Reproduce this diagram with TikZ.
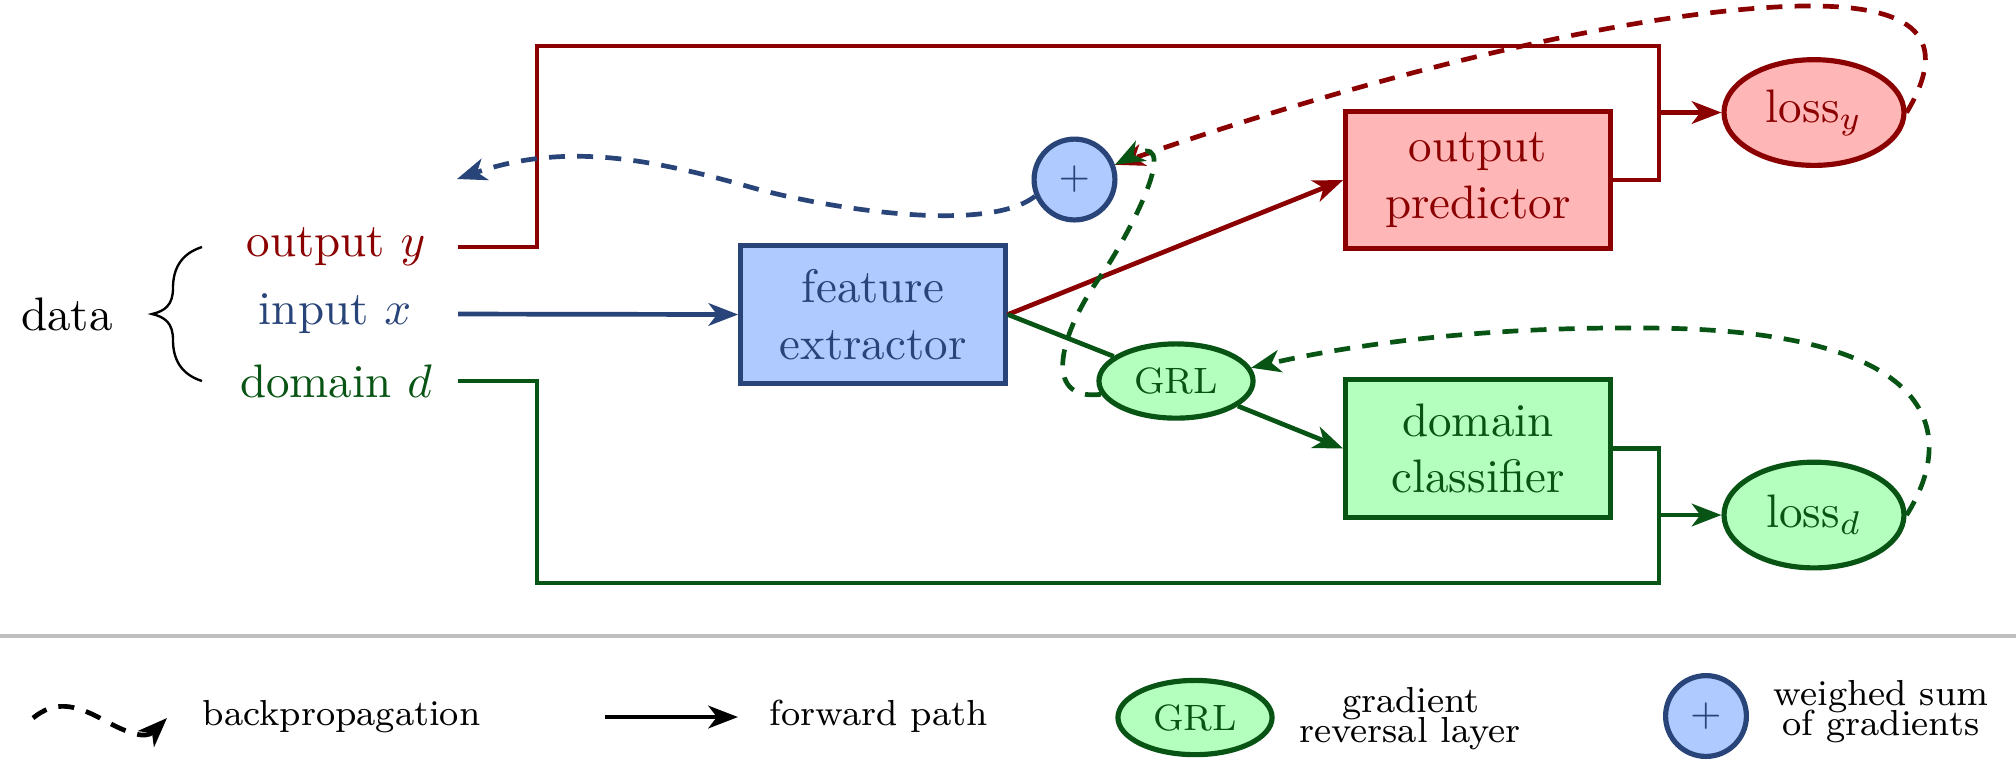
\documentclass[tikz,border=0pt]{standalone}
\usetikzlibrary{arrows.meta,shapes.geometric}
\definecolor{dred}{RGB}{139,0,0}
\definecolor{lred}{RGB}{255,182,182}
\definecolor{dgreen}{RGB}{8,84,20}
\definecolor{lgreen}{RGB}{180,255,190}
\definecolor{dblue}{RGB}{40,68,120}
\definecolor{lblue}{RGB}{174,202,255}
\definecolor{sepgray}{RGB}{190,190,190}
\tikzset{
  tip/.style={-{Stealth[length=6.3pt,width=4.8pt,inset=1.8pt]}},
  fwd/.style={line width=1pt, tip},
  plain/.style={line width=1pt},
  back/.style={line width=1pt, dash pattern=on 3.4pt off 2.6pt, tip},
  box/.style={draw, rectangle, line width=1.1pt, minimum width=56.3pt, minimum height=29.3pt, align=center, inner sep=0pt},
  lossnode/.style={draw, ellipse, line width=1.1pt, minimum width=38.3pt, minimum height=22.5pt, inner sep=0pt},
  grlnode/.style={draw=dgreen, fill=lgreen, text=dgreen, ellipse, line width=1.1pt, minimum width=32.8pt, minimum height=15.8pt, inner sep=0pt, font=\fontsize{7.8}{9.4}\selectfont},
  plusnode/.style={draw=dblue, fill=lblue, text=dblue, circle, line width=1.1pt, minimum size=17.2pt, inner sep=0pt, font=\fontsize{7.8}{9.4}\selectfont},
  legtext/.style={inner sep=0pt, font=\fontsize{7.7}{9.4}\selectfont},
}
\begin{document}
\begin{tikzpicture}[x=0.2128pt, y=-0.2128pt]
\useasboundingbox (0,0) rectangle (2016,761);

% data labels
\node (data) at (67,314) {data};
\node[text=dred] (outy) at (336,247) {output $y$};
\node[text=dblue] (inx) at (335,314) {input $x$};
\node[text=dgreen] (domd) at (336,381) {domain $d$};
\draw[line width=0.5pt] (202,247) .. controls (180,254) and (173,270) .. (173,288)
   .. controls (173,305) and (165,311) .. (152,314)
   .. controls (165,317) and (173,323) .. (173,340)
   .. controls (173,358) and (180,374) .. (202,381);

% main nodes
\node[box, draw=dblue, fill=lblue, text=dblue] (fe) at (873,314.5) {feature\\extractor};
\node[box, draw=dred, fill=lred, text=dred] (op) at (1478,180) {output\\predictor};
\node[box, draw=dgreen, fill=lgreen, text=dgreen] (dc) at (1478,448.5) {domain\\classifier};
\node[lossnode, draw=dred, fill=lred, text=dred] (lossy) at (1814,112.5) {loss$_y$};
\node[lossnode, draw=dgreen, fill=lgreen, text=dgreen] (lossd) at (1814,515) {loss$_d$};
\node[grlnode] (grl) at (1176,381) {GRL};
\node[plusnode] (plus) at (1074.5,179.5) {$+$};

% coordinates
\coordinate (ys) at (458,247);
\coordinate (xs) at (458,314);
\coordinate (ds) at (458,381);
\coordinate (jy) at (1659,112.5);
\coordinate (jd) at (1659,515);
\coordinate (bluetip) at (457,179);

% forward paths
\draw[fwd, dblue] (xs) -- (fe.west);
\draw[fwd, dred] (fe.east) -- (op.west);
\draw[plain, dgreen] (fe.east) -- (grl);
\draw[fwd, dgreen] (grl) -- (dc.west);
\draw[plain, dred] (ys) -- (537,247) -- (537,46) -- (1659,46) -- (jy);
\draw[plain, dred] (op.east) -| (jy);
\draw[fwd, dred] (jy) -- (lossy);
\draw[plain, dgreen] (ds) -- (537,381) -- (537,583) -- (1659,583) -- (jd);
\draw[plain, dgreen] (dc.east) -| (jd);
\draw[fwd, dgreen] (jd) -- (lossd);

% backpropagation
\draw[back, dred] (lossy.east) .. controls (1950,40) and (1920,4) .. (1800,6)
   .. controls (1600,11) and (1300,100) .. (plus.20);
\draw[back, dgreen] (lossd.east) .. controls (1960,430) and (1935,330) .. (1650,328)
   .. controls (1450,326) and (1320,352) .. (grl.10);
\draw[back, dgreen] (grl.190) .. controls (1040,402) and (1060,330) .. (1105,270)
   .. controls (1140,215) and (1180,130) .. (plus.20);
\draw[back, dblue] (plus.203) .. controls (985,235) and (820,207) .. (750,187)
   .. controls (645,157) and (562,143) .. (bluetip);

% legend
\coordinate (sepl) at (0,636);
\coordinate (sepr) at (2016,636);
\draw[line width=0.7pt, sepgray] (sepl) -- (sepr);
\coordinate (bpa) at (33,718);
\coordinate (bpb) at (167,718);
\draw[back, black] (bpa) .. controls (55,700) and (75,705) .. (100,718)
   .. controls (125,732) and (145,740) .. (bpb);
\node[legtext, anchor=base west] (bptxt) at (202,725) {backpropagation};
\coordinate (fwa) at (605,717);
\coordinate (fwb) at (738,717);
\draw[fwd, black] (fwa) -- (fwb);
\node[legtext, anchor=base west] (fwtxt) at (769,725) {forward path};
\node[grlnode] (lgrl) at (1195,717.5) {GRL};
\node[legtext, anchor=base] (lg1) at (1411,712) {gradient};
\node[legtext, anchor=base] (lg2) at (1410,742) {reversal layer};
\node[plusnode] (lplus) at (1706,716) {$+$};
\node[legtext, anchor=base] (lw1) at (1881,705) {weighed sum};
\node[legtext, anchor=base] (lw2) at (1881,735) {of gradients};
\end{tikzpicture}
\end{document}
